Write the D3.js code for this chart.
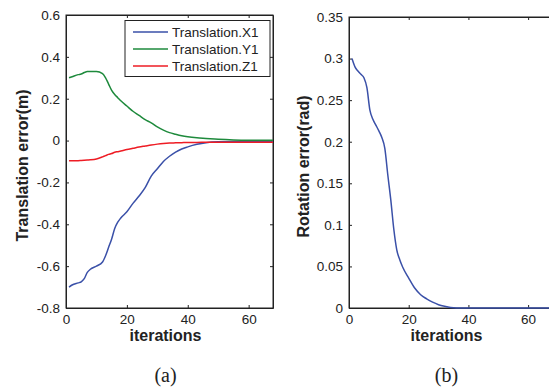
<!DOCTYPE html>
<html>
<head>
<meta charset="utf-8">
<script src="https://cdn.jsdelivr.net/npm/d3@7"></script>
<style>
  body { margin: 0; background: #fff; }
  svg { display: block; }
  .tick text { font-family: "Liberation Sans", Arial, sans-serif; font-size: 13.5px; fill: #222; }
  .axisLabel { font-family: "Liberation Sans", Arial, sans-serif; font-size: 16px; font-weight: bold; fill: #222; }
  .legendText { font-family: "Liberation Sans", Arial, sans-serif; font-size: 13.5px; fill: #222; }
  .caption { font-family: "Liberation Serif", "DejaVu Serif", serif; font-size: 20px; fill: #222; }
</style>
</head>
<body>
<script>
//data
var iterT = [1, 2, 4, 5, 6, 7, 8, 10, 12, 13, 14, 15, 16, 17, 18, 20, 22, 24, 26, 28, 30, 32, 34, 36, 38, 40, 43, 46, 50, 55, 60, 65, 68];
var transX = [-0.70, -0.69, -0.68, -0.675, -0.66, -0.63, -0.615, -0.60, -0.58, -0.55, -0.51, -0.47, -0.42, -0.39, -0.37, -0.34, -0.30, -0.265, -0.225, -0.17, -0.135, -0.10, -0.075, -0.055, -0.04, -0.03, -0.018, -0.01, -0.006, -0.005, -0.005, -0.005, -0.005];
var transY = [0.30, 0.305, 0.315, 0.318, 0.325, 0.33, 0.33, 0.33, 0.32, 0.30, 0.27, 0.24, 0.22, 0.205, 0.19, 0.165, 0.14, 0.12, 0.10, 0.085, 0.065, 0.05, 0.038, 0.03, 0.023, 0.018, 0.013, 0.01, 0.006, 0.003, 0.002, 0.002, 0.002];
var transZ = [-0.097, -0.097, -0.096, -0.095, -0.094, -0.093, -0.092, -0.088, -0.078, -0.072, -0.066, -0.062, -0.056, -0.053, -0.05, -0.043, -0.037, -0.031, -0.026, -0.021, -0.017, -0.014, -0.012, -0.011, -0.01, -0.009, -0.009, -0.008, -0.008, -0.008, -0.008, -0.008, -0.008];

var iterR = [1, 2, 3, 4, 5, 6, 7, 8, 9, 10, 11, 12, 13, 14, 15, 16, 17, 18, 20, 22, 24, 26, 28, 30, 32, 34, 36, 40, 50, 60, 68];
var rotErr = [0.30, 0.29, 0.285, 0.281, 0.277, 0.265, 0.238, 0.227, 0.22, 0.213, 0.205, 0.192, 0.16, 0.13, 0.095, 0.07, 0.058, 0.049, 0.036, 0.024, 0.016, 0.011, 0.007, 0.004, 0.002, 0.0005, 0, 0, 0, 0, 0];

var seriesNames = ["Translation.X1", "Translation.Y1", "Translation.Z1"];
var seriesColors = ["#3a50a8", "#1e8a3c", "#ee1c24"];

var xTicks = [0, 20, 40, 60];
var yTicksT = [-0.8, -0.6, -0.4, -0.2, 0, 0.2, 0.4, 0.6];
var yTicksR = [0, 0.05, 0.1, 0.15, 0.2, 0.25, 0.3, 0.35];

var svg = d3.select("body").append("svg")
    .attr("width", 549)
    .attr("height", 387);

//draws one boxed panel, returns the scales
function makePanel(box, yDomain, yTicks, yLabel, caption, labelOff){
    var x = d3.scaleLinear().domain([0, 68]).range([box.left, box.right]);
    var y = d3.scaleLinear().domain(yDomain).range([box.bottom, box.top]);
    var fmt = function(d){ return String(+d.toFixed(2)); };

    //inner ticks on all four sides
    svg.append("g").attr("transform", "translate(0," + box.bottom + ")")
        .call(d3.axisBottom(x).tickValues(xTicks).tickSizeInner(-3).tickSizeOuter(0).tickPadding(6).tickFormat(fmt));
    svg.append("g").attr("transform", "translate(0," + box.top + ")")
        .call(d3.axisTop(x).tickValues(xTicks).tickSizeInner(-3).tickSizeOuter(0).tickFormat(""));
    svg.append("g").attr("transform", "translate(" + box.left + ",0)")
        .call(d3.axisLeft(y).tickValues(yTicks).tickSizeInner(-3).tickSizeOuter(0).tickPadding(6).tickFormat(fmt));
    svg.append("g").attr("transform", "translate(" + box.right + ",0)")
        .call(d3.axisRight(y).tickValues(yTicks).tickSizeInner(-3).tickSizeOuter(0).tickFormat(""));

    svg.selectAll(".domain").attr("stroke", "#222");
    svg.selectAll(".tick line").attr("stroke", "#222");

    svg.append("rect")
        .attr("x", box.left).attr("y", box.top)
        .attr("width", box.right - box.left).attr("height", box.bottom - box.top)
        .attr("fill", "none").attr("stroke", "#222").attr("stroke-width", 1);

    svg.append("text").attr("class", "axisLabel")
        .attr("x", (box.left + box.right) / 2 - 4).attr("y", 341)
        .attr("text-anchor", "middle").text("iterations");

    svg.append("text").attr("class", "axisLabel")
        .attr("transform", "translate(" + (box.left - labelOff) + "," + ((box.top + box.bottom) / 2 + 4) + ") rotate(-90)")
        .attr("text-anchor", "middle").text(yLabel);

    svg.append("text").attr("class", "caption")
        .attr("x", (box.left + box.right) / 2 - 4).attr("y", 382)
        .attr("text-anchor", "middle").text(caption);

    return {x: x, y: y};
}

var left = makePanel({left: 66, right: 273, top: 15, bottom: 308}, [-0.8, 0.6], yTicksT, "Translation error(m)", "(a)", 38);
var right = makePanel({left: 349, right: 552, top: 17, bottom: 308}, [0, 0.35], yTicksR, "Rotation error(rad)", "(b)", 40);

//translation lines
[transX, transY, transZ].forEach(function(vals, k){
    var line = d3.line()
        .x(function(d, i){ return left.x(iterT[i]); })
        .y(function(d){ return left.y(d); })
        .curve(d3.curveMonotoneX);
    svg.append("path")
        .datum(vals)
        .attr("d", line)
        .attr("fill", "none")
        .attr("stroke", seriesColors[k])
        .attr("stroke-width", 1.5);
});

//rotation line
var rLine = d3.line()
    .x(function(d, i){ return right.x(iterR[i]); })
    .y(function(d){ return right.y(d); })
    .curve(d3.curveMonotoneX);
svg.append("path")
    .datum(rotErr)
    .attr("d", rLine)
    .attr("fill", "none")
    .attr("stroke", seriesColors[0])
    .attr("stroke-width", 1.5);

//legend
var legend = svg.append("g");
legend.append("rect")
    .attr("x", 125).attr("y", 20.5).attr("width", 145).attr("height", 56)
    .attr("fill", "#fff").attr("stroke", "#222");
seriesNames.forEach(function(name, k){
    var ly = 32 + k * 17;
    legend.append("line")
        .attr("x1", 133).attr("x2", 168).attr("y1", ly).attr("y2", ly)
        .attr("stroke", seriesColors[k]).attr("stroke-width", 1.5);
    legend.append("text").attr("class", "legendText")
        .attr("x", 172).attr("y", ly + 5).text(name);
});
</script>
</body>
</html>
